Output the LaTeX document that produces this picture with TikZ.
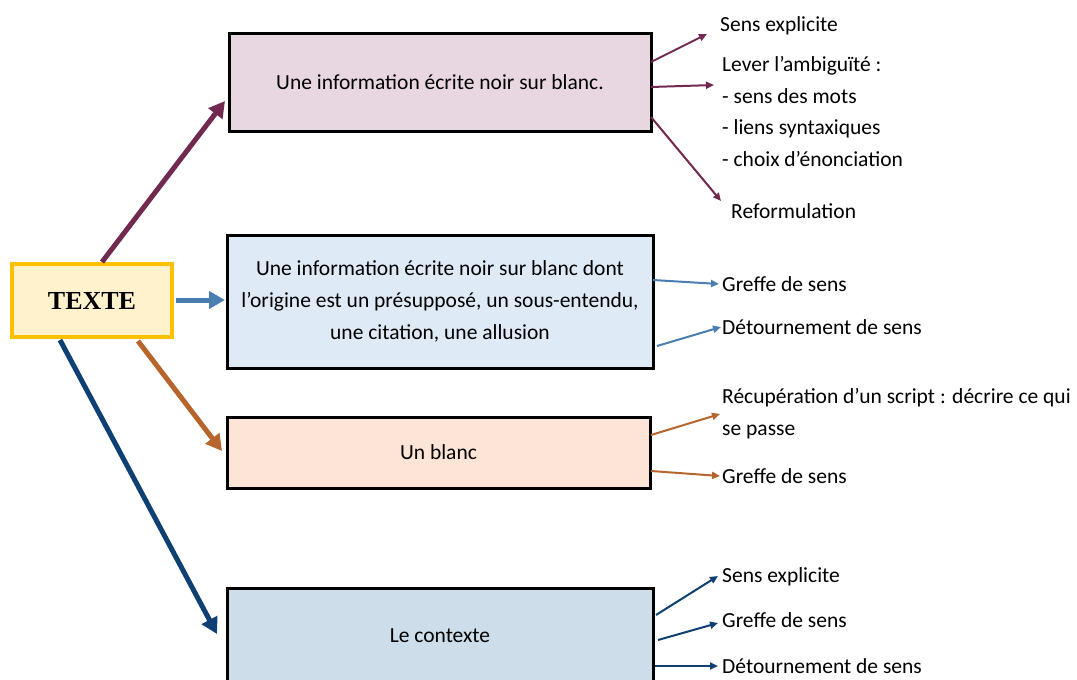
\documentclass[tikz,border=0pt]{standalone}
\usepackage{fontspec}
\setmainfont{Carlito}
\newfontfamily\serifbold{Liberation Serif}
\usetikzlibrary{arrows.meta}
\definecolor{cPinkF}{RGB}{232,214,225}
\definecolor{cBlueF}{RGB}{222,235,247}
\definecolor{cPeachF}{RGB}{252,228,214}
\definecolor{cGrayBF}{RGB}{205,221,234}
\definecolor{cYelF}{RGB}{255,242,204}
\definecolor{cYelD}{RGB}{255,192,0}
\definecolor{cMaroon}{RGB}{114,41,80}
\definecolor{cSteel}{RGB}{74,125,176}
\definecolor{cOrange}{RGB}{182,101,44}
\definecolor{cNavy}{RGB}{14,64,116}
\tikzset{
  mainbox/.style={draw=black,line width=3pt,inner sep=0pt,font=\fontsize{21.5}{32}\selectfont,align=center},
  lbl/.style={anchor=west,inner sep=0pt,font=\fontsize{21.5}{31.5}\selectfont,align=left},
  bigarrow/.style={line width=5pt,-{Triangle[length=16pt,width=17pt]}},
  smallarrow/.style={line width=2pt,-{Triangle[length=8pt,width=7pt]}},
}
\begin{document}
\begin{tikzpicture}[x=1pt,y=-1pt]
\useasboundingbox (0,0) rectangle (1077,680);
\clip (0,0) rectangle (1077,680);
% main boxes
\node[mainbox,fill=cPinkF,minimum width=422pt,minimum height=98pt] (b1) at (440,82) {Une information écrite noir sur blanc.};
\node[mainbox,fill=cBlueF,minimum width=426pt,minimum height=133pt] (b2) at (440,301.5) {Une information écrite noir sur blanc dont\\l’origine est un présupposé, un sous-entendu,\\une citation, une allusion};
\node[mainbox,fill=cPeachF,minimum width=423pt,minimum height=71pt] (b3) at (438.5,452.5) {Un blanc};
\node[mainbox,fill=cGrayBF,minimum width=426pt,minimum height=100pt,anchor=north] (b4) at (440,587) {};
\node[font=\fontsize{21.5}{24}\selectfont] (b4t) at (440,636) {Le contexte};
\node[draw=cYelD,fill=cYelF,line width=3.5pt,minimum width=160pt,minimum height=73pt,inner sep=0pt,font=\serifbold\bfseries\fontsize{26}{28}\selectfont] (t) at (92,300.5) {TEXTE};
% big arrows
\coordinate (s1) at (102,262); \coordinate (e1) at (225,101);
\coordinate (s2) at (176,300); \coordinate (e2) at (225,300);
\coordinate (s3) at (138,341); \coordinate (e3) at (222,451);
\coordinate (s4) at (60,340); \coordinate (e4) at (217,634);
\draw[bigarrow,cMaroon] (s1) -- (e1);
\draw[bigarrow,cSteel] (s2) -- (e2);
\draw[bigarrow,cOrange] (s3) -- (e3);
\draw[bigarrow,cNavy] (s4) -- (e4);
% labels
\node[lbl] (l1) at (720,26) {Sens explicite};
\node[lbl,anchor=base west] (l2) at (722,166) {Lever l’ambiguïté :\\- sens des mots\\- liens syntaxiques\\- choix d’énonciation};
\node[lbl] (l3) at (731,211) {Reformulation};
\node[lbl] (l4) at (722,284) {Greffe de sens};
\node[lbl] (l5) at (722,327) {Détournement de sens};
\node[lbl,anchor=base west] (l6) at (722,435) {Récupération d’un script : décrire ce qui\\se passe};
\node[lbl] (l7) at (722,476) {Greffe de sens};
\node[lbl] (l8) at (722,577) {Sens explicite};
\node[lbl] (l9) at (722,620) {Greffe de sens};
\node[lbl] (l10) at (722,666) {Détournement de sens};
% small arrows
\coordinate (a1s) at (651,62); \coordinate (a1e) at (707,34);
\coordinate (a2s) at (651,87); \coordinate (a2e) at (714,85);
\coordinate (a3s) at (651,117); \coordinate (a3e) at (721,201);
\coordinate (a4s) at (653,280); \coordinate (a4e) at (719,284);
\coordinate (a5s) at (657,346); \coordinate (a5e) at (721,327);
\coordinate (a6s) at (651,435); \coordinate (a6e) at (720,414);
\coordinate (a7s) at (651,471); \coordinate (a7e) at (720,476);
\coordinate (a8s) at (656,615); \coordinate (a8e) at (718,576);
\coordinate (a9s) at (658,640); \coordinate (a9e) at (718,623);
\coordinate (a10s) at (655,666); \coordinate (a10e) at (718,666);
\draw[smallarrow,cMaroon] (a1s) -- (a1e);
\draw[smallarrow,cMaroon] (a2s) -- (a2e);
\draw[smallarrow,cMaroon] (a3s) -- (a3e);
\draw[smallarrow,cSteel] (a4s) -- (a4e);
\draw[smallarrow,cSteel] (a5s) -- (a5e);
\draw[smallarrow,cOrange] (a6s) -- (a6e);
\draw[smallarrow,cOrange] (a7s) -- (a7e);
\draw[smallarrow,cNavy] (a8s) -- (a8e);
\draw[smallarrow,cNavy] (a9s) -- (a9e);
\draw[smallarrow,cNavy] (a10s) -- (a10e);
\end{tikzpicture}
\end{document}
